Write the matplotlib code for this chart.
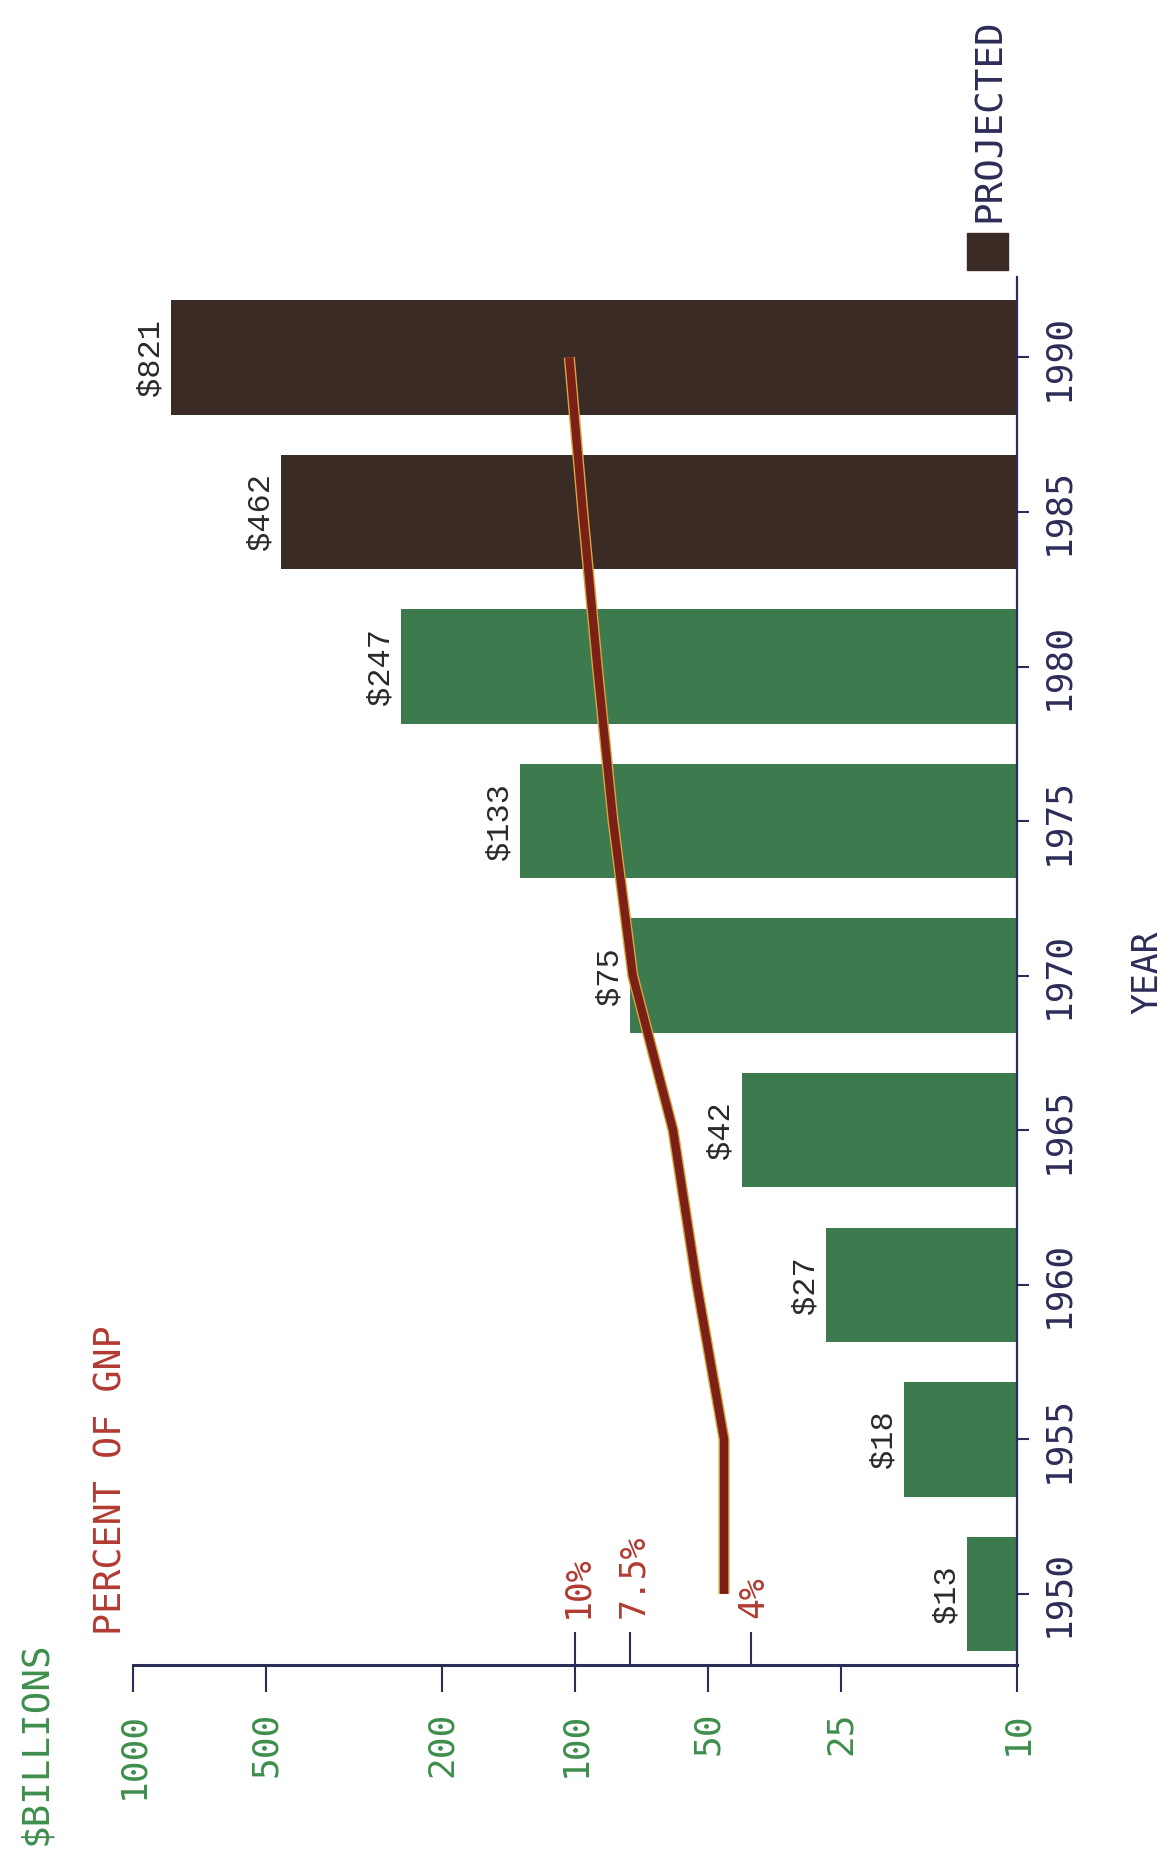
import numpy as np
import matplotlib
matplotlib.use("Agg")
import matplotlib.pyplot as plt
import matplotlib.patheffects as pe
from matplotlib import font_manager
from matplotlib.patches import Rectangle
from matplotlib.ticker import NullLocator

# data
years = [1950, 1955, 1960, 1965, 1970, 1975, 1980, 1985, 1990]
spending = [13, 18, 27, 42, 75, 133, 247, 462, 821]      # $ billions
projected = [False, False, False, False, False, False, False, True, True]
pct_gnp = [4.6, 4.6, 5.3, 6.0, 7.4, 8.2, 8.9, 9.6, 10.3]  # percent of GNP
value_ticks = [10, 25, 50, 100, 200, 500, 1000]
pct_ticks = [4, 7.5, 10]
pct_tick_labels = ["4%", "7.5%", "10%"]


def pick_font(name, fallback):
    try:
        font_manager.findfont(font_manager.FontProperties(family=name),
                              fallback_to_default=False)
        return name
    except ValueError:
        return fallback


PLOT_FONT = "DejaVu Sans Mono"
LABEL_FONT = pick_font("Liberation Mono", "DejaVu Sans Mono")

NAVY = "#2c2c58"
GREEN_TXT = "#3e8e4c"
RED_TXT = "#b23a32"
GREEN_BAR = "#3d7b4f"
BROWN_BAR = "#3b2b25"

W, H = 1174, 1854
fig = plt.figure(figsize=(W / 100, H / 100), dpi=100)
ax = fig.add_axes([133 / W, 1 - 1665 / H, (1017 - 133) / W, (1665 - 277) / H])

ax.set_xscale("log")
ax.set_xlim(1000, 10)
ax.set_ylim(1947.7, 1992.6)

# bars start at the 10 baseline
colors = [BROWN_BAR if p else GREEN_BAR for p in projected]
widths = [v - 10 for v in spending]
ax.barh(years, widths, left=10, height=3.7, color=colors, zorder=2)

for y, v in zip(years, spending):
    ax.annotate(f"${v}", xy=(v, y), xytext=(-4, 0), textcoords="offset points",
                rotation=90, ha="right", va="center", fontsize=23,
                family=LABEL_FONT, color="#2a2a2a")

# percent of GNP line, plotted on the same axis as 10 x percent
ax.plot(np.array(pct_gnp) * 10, years, color="#7a2016", lw=6,
        solid_capstyle="butt", solid_joinstyle="round", zorder=3,
        path_effects=[pe.Stroke(linewidth=8, foreground="#d9a441"), pe.Normal()])

# spines
for s in ["left", "top"]:
    ax.spines[s].set_visible(False)
ax.spines["bottom"].set_color(NAVY)
ax.spines["bottom"].set_linewidth(2.2)
ax.spines["right"].set_color(NAVY)
ax.spines["right"].set_linewidth(1.6)

# value axis
ax.xaxis.set_minor_locator(NullLocator())
ax.set_xticks(value_ticks)
ax.set_xticklabels([str(v) for v in value_ticks], rotation=90, fontsize=26,
                   family=PLOT_FONT, color=GREEN_TXT)
ax.tick_params(axis="x", direction="out", length=19.5, width=1.5,
               color=NAVY, pad=14)

# year axis
ax.yaxis.tick_right()
ax.yaxis.set_minor_locator(NullLocator())
ax.set_yticks(years)
ax.set_yticklabels([str(y) for y in years], rotation=90, va="center",
                   fontsize=26, family=PLOT_FONT, color=NAVY)
ax.tick_params(axis="y", direction="out", length=8.6, width=1.5,
               color=NAVY, pad=8.6)

# percent ticks above the value axis
sec = ax.secondary_xaxis("bottom", functions=(lambda x: x / 10, lambda p: p * 10))
sec.xaxis.set_minor_locator(NullLocator())
sec.set_xticks(pct_ticks)
sec.tick_params(direction="in", length=24, width=1.5, color=NAVY,
                labelbottom=False)
sec.spines["bottom"].set_visible(False)
for p, lab in zip(pct_ticks, pct_tick_labels):
    ax.annotate(lab, xy=(p * 10, 0), xycoords=("data", "axes fraction"),
                xytext=(2, 34), textcoords="offset points", rotation=90,
                ha="center", va="bottom", fontsize=25, family=PLOT_FONT,
                color=RED_TXT)

# titles and legend
fig.text(36 / W, 1 - 1845 / H, "$BILLIONS", rotation=90, ha="center",
         va="bottom", fontsize=27, family=PLOT_FONT, color=GREEN_TXT)
fig.text(111 / W, 1 - 1635 / H, "PERCENT OF GNP", rotation=90, ha="center",
         va="bottom", fontsize=26.5, family=PLOT_FONT, color=RED_TXT)
fig.text(1147 / W, 1 - 972 / H, "YEAR", rotation=90, ha="center",
         va="center", fontsize=25, family=PLOT_FONT, color=NAVY)
fig.add_artist(Rectangle((967 / W, 1 - 270 / H), 41 / W, 37 / H,
                         transform=fig.transFigure, color=BROWN_BAR))
fig.text(990 / W, 1 - 222 / H, "PROJECTED", rotation=90, ha="center",
         va="bottom", fontsize=27, family=PLOT_FONT, color=NAVY)

fig.savefig("out.png", dpi=100)
